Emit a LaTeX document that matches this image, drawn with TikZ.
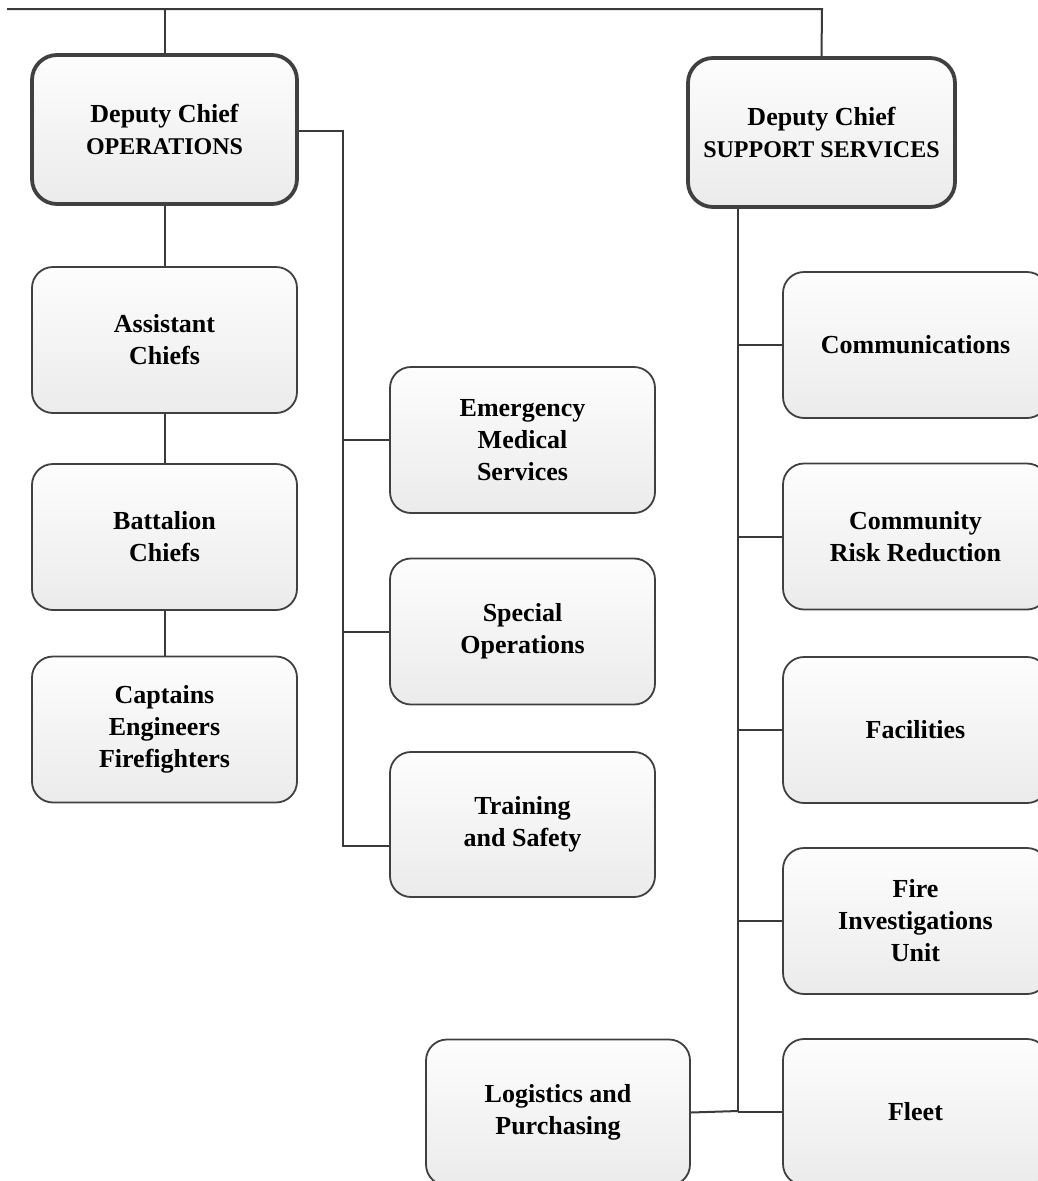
\documentclass[tikz,border=0pt]{standalone}
\usepackage{fontspec}
\setmainfont{Liberation Serif}
\definecolor{boxbot}{HTML}{EBEBEB}
\definecolor{boxtop}{HTML}{FDFDFD}
\definecolor{edge}{HTML}{404040}
\definecolor{wire}{HTML}{3A3A3A}
\newcommand{\capsline}{\fontsize{24}{32}\selectfont}
\tikzset{
  unit/.style={draw=edge, line width=1.8pt, rounded corners=21pt, top color=boxtop, bottom color=boxbot,
    minimum width=265pt, minimum height=146pt, inner sep=0pt, align=center,
    font=\fontsize{26}{32}\selectfont\bfseries},
  chief/.style={unit, line width=3.8pt, rounded corners=25pt, minimum height=149pt},
  wire/.style={draw=wire, line width=2pt},
}
\begin{document}
\begin{tikzpicture}[x=1pt,y=-1pt]
\useasboundingbox (0,0) rectangle (1038,1181);
\clip (0,0) rectangle (1038,1181);
% left column
\node[chief] (ops) at (164.5,129.5) {Deputy Chief\\{\capsline OPERATIONS}};
\node[unit] (asst) at (164.5,340) {Assistant\\Chiefs};
\node[unit] (batt) at (164.5,537) {Battalion\\Chiefs};
\node[unit] (capt) at (164.5,729.5) {Captains\\Engineers\\Firefighters};
% middle column
\node[unit] (ems) at (522.5,440) {Emergency\\Medical\\Services};
\node[unit] (spec) at (522.5,631.5) {Special\\Operations};
\node[unit, minimum height=145pt] (train) at (522.5,824.5) {Training\\and Safety};
% right
\node[chief, minimum width=267pt] (sup) at (821.5,132.5) {Deputy Chief\\{\capsline SUPPORT SERVICES}};
\node[unit] (comm) at (915.5,345) {Communications};
\node[unit] (crr) at (915.5,536.5) {Community\\Risk Reduction};
\node[unit] (fac) at (915.5,730) {Facilities};
\node[unit] (fire) at (915.5,921) {Fire\\Investigations\\Unit};
\node[unit] (fleet) at (915.5,1112) {Fleet};
\node[unit, minimum width=264pt] (log) at (558,1112.5) {Logistics and\\Purchasing};
% trunk coordinates
\coordinate (topL) at (7,9);
\coordinate (topR) at (822,9);
\coordinate (opsR) at (343,131);
\coordinate (opsB) at (343,846);
\coordinate (supB) at (738,1111);
% connectors
\draw[wire] (topL) -- (topR) -- (sup.north);
\draw[wire] (ops.north |- topL) -- (ops.north);
\draw[wire] (ops.south) -- (asst.north);
\draw[wire] (asst.south) -- (batt.north);
\draw[wire] (batt.south) -- (capt.north);
\draw[wire] (ops.east |- opsR) -- (opsR) -- (opsB) -- (opsB -| train.west);
\draw[wire] (opsR |- ems.west) -- (ems.west);
\draw[wire] (opsR |- spec.west) -- (spec.west);
\draw[wire] (supB |- sup.south) -- (supB);
\draw[wire] (supB |- comm.west) -- (comm.west);
\draw[wire] (supB |- crr.west) -- (crr.west);
\draw[wire] (supB |- fac.west) -- (fac.west);
\draw[wire] (supB |- fire.west) -- (fire.west);
\draw[wire] (supB |- fleet.west) -- (fleet.west);
\draw[wire] (log.east) -- (supB);
\end{tikzpicture}
\end{document}
